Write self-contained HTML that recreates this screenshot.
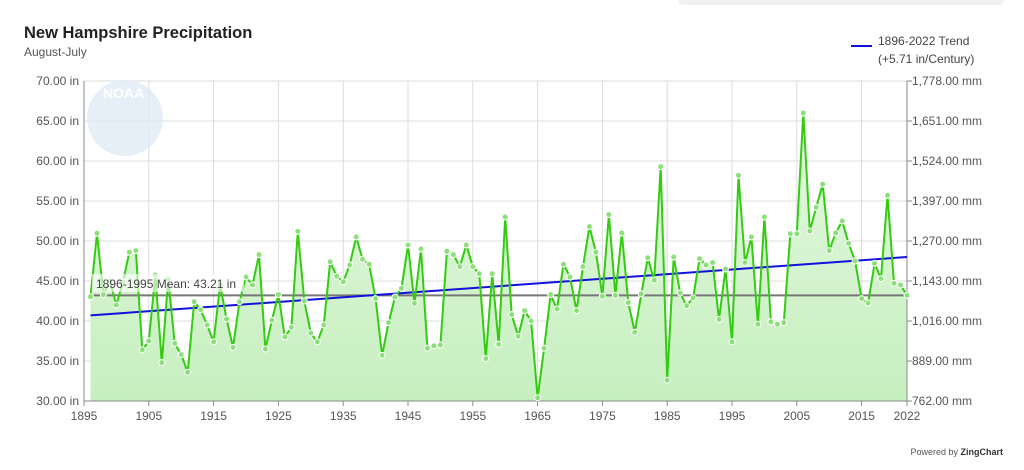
<!DOCTYPE html>
<html><head><meta charset="utf-8"><style>
html,body{margin:0;padding:0;background:#fff;width:1024px;height:470px;overflow:hidden;font-family:"Liberation Sans",sans-serif}
</style></head><body>
<svg id="c" width="1024" height="470" xmlns="http://www.w3.org/2000/svg" font-family="Liberation Sans, sans-serif">
<defs><linearGradient id="g" x1="0" y1="0" x2="0" y2="1"><stop offset="0" stop-color="#e6f8e2"/><stop offset="1" stop-color="#c6efbf"/></linearGradient></defs>
<rect x="678" y="-10" width="326" height="15" rx="5" fill="#f0f0f2"/>
<text x="24" y="38" font-size="16.5" font-weight="bold" fill="#222">New Hampshire Precipitation</text>
<text x="24" y="56" font-size="12" fill="#555">August-July</text>
<line x1="851" y1="46" x2="872" y2="46" stroke="#1111dd" stroke-width="2"/>
<text x="878" y="45" font-size="12" fill="#444">1896-2022 Trend</text>
<text x="878" y="63" font-size="12" fill="#444">(+5.71 in/Century)</text>
<g id="grid"></g>
<circle cx="125" cy="118" r="38" fill="#dde9f5" opacity="0.75"/>
<text x="103" y="98" font-size="14" font-weight="bold" fill="#fff">NOAA</text>
<g id="plot"></g>
<text x="1003" y="455" font-size="9" fill="#555" text-anchor="end">Powered by <tspan font-weight="bold" fill="#333">ZingChart</tspan></text>
</svg>
<script>
var d=[43.04,50.96,43.3,45,42.0,44.9,48.6,48.8,36.4,37.5,45.75,34.8,45.25,37.2,35.8,33.6,42.4,41.4,39.5,37.4,44.5,40.25,36.7,42.4,45.5,44.5,48.3,36.5,40.1,43.3,38.0,39.2,51.2,42.5,38.5,37.4,39.5,47.4,45.6,44.9,47.0,50.5,47.7,47.1,42.8,35.7,39.8,43.0,44.1,49.5,42.2,49.0,36.6,36.9,37.0,48.7,48.3,46.8,49.5,46.8,45.9,35.3,45.9,37.1,53.0,40.8,38.1,41.3,40.0,30.4,36.6,43.3,41.5,47.1,45.5,41.3,46.8,51.8,48.6,43.1,53.3,43.2,51.0,42.3,38.6,43.4,47.9,45.1,59.3,32.6,48.0,43.5,41.9,42.9,47.8,47.0,47.3,40.2,46.5,37.4,58.2,47.3,50.5,39.6,53.0,39.9,39.6,39.8,50.9,50.9,66.0,51.25,54.2,57.1,48.8,51.0,52.5,49.7,47.5,42.8,42.25,47.2,45.3,55.7,44.7,44.5,43.2];
function X(yr){return 84+(yr-1895)*6.48}
function Y(v){return 81+(70-v)*8}
var s='';
var mm=["1,778.00","1,651.00","1,524.00","1,397.00","1,270.00","1,143.00","1,016.00","889.00","762.00"];
for(var i=0;i<9;i++){var v=70-5*i,y=Y(v);
s+='<line x1="84" x2="907" y1="'+y+'" y2="'+y+'" stroke="#ddd"/>';
s+='<text x="79" y="'+(y+4)+'" font-size="12" fill="#555" text-anchor="end">'+v.toFixed(2)+' in</text>';
s+='<text x="912" y="'+(y+4)+'" font-size="12" fill="#555">'+mm[i]+' mm</text>';
s+='<line x1="907" x2="912" y1="'+y+'" y2="'+y+'" stroke="#888"/>';}
var yrs=[1895,1905,1915,1925,1935,1945,1955,1965,1975,1985,1995,2005,2015,2022];
yrs.forEach(function(yr){var x=X(yr);if(yr>1895&&yr<2022)s+='<line x1="'+x+'" x2="'+x+'" y1="81" y2="401" stroke="#ddd"/>';
s+='<line x1="'+x+'" x2="'+x+'" y1="401" y2="406" stroke="#888"/>';
s+='<text x="'+x+'" y="420" font-size="12" fill="#555" text-anchor="middle">'+yr+'</text>';});
document.getElementById('grid').innerHTML=s;
var pts=d.map(function(v,i){return X(1896+i).toFixed(1)+','+Y(v).toFixed(1)});
var p='<polygon points="'+X(1896)+',401 '+pts.join(' ')+' '+X(2022)+',401" fill="url(#g)"/>';
p+='<line x1="84" x2="84" y1="81" y2="401" stroke="#888"/><line x1="907" x2="907" y1="81" y2="401" stroke="#888"/><line x1="84" x2="907" y1="401" y2="401" stroke="#888"/>';
p+='<line x1="'+X(1896)+'" x2="'+X(2022)+'" y1="'+Y(43.21)+'" y2="'+Y(43.21)+'" stroke="#777" stroke-width="2"/>';
p+='<line x1="'+X(1896)+'" x2="'+X(2022)+'" y1="'+Y(40.7)+'" y2="'+Y(48.0)+'" stroke="#1111dd" stroke-width="2"/>';
p+='<polyline points="'+pts.join(' ')+'" fill="none" stroke="#33cc11" stroke-width="2"/>';
pts.forEach(function(q){var a=q.split(',');p+='<circle cx="'+a[0]+'" cy="'+a[1]+'" r="3" fill="#8be07a" stroke="#fff" stroke-width="1"/>';});
p+='<rect x="92" y="274" width="152" height="18" fill="#fff" opacity="0.6"/>';
p+='<text x="96" y="288" font-size="12" fill="#444">1896-1995 Mean: 43.21 in</text>';
document.getElementById('plot').innerHTML=p;
</script>
</body></html>
